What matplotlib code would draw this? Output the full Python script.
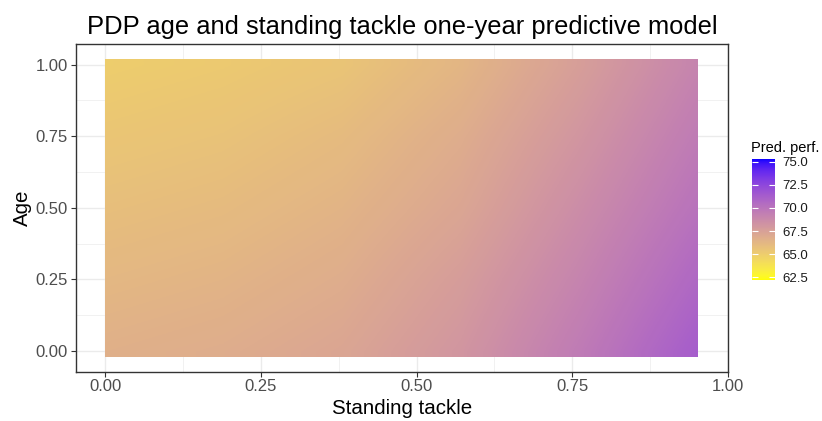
import numpy as np
import matplotlib
matplotlib.use("Agg")
import matplotlib.pyplot as plt
from matplotlib.colors import ListedColormap
from matplotlib.patches import Rectangle

# partial dependence grid: rows = age, columns = standing tackle
tackle = [0.0, 0.19, 0.38, 0.57, 0.76, 0.952]
age = [0.0, 0.25, 0.5, 0.75, 1.0]
pred = [
    [66.6, 66.8, 67.2, 68.1, 69.6, 71.3],
    [66.2, 66.4, 66.8, 67.7, 69.1, 70.7],
    [65.8, 66.0, 66.4, 67.2, 68.6, 70.1],
    [65.4, 65.6, 66.0, 66.8, 68.1, 69.6],
    [65.0, 65.2, 65.5, 66.3, 67.6, 69.1],
]
fill_limits = (62.2, 75.3)
legend_ticks = [62.5, 65.0, 67.5, 70.0, 72.5, 75.0]


def srgb_to_lab(rgb):
    rgb = np.asarray(rgb, float)
    lin = np.where(rgb <= 0.04045, rgb / 12.92, ((rgb + 0.055) / 1.055) ** 2.4)
    m = np.array([[0.4124, 0.3576, 0.1805],
                  [0.2126, 0.7152, 0.0722],
                  [0.0193, 0.1192, 0.9505]])
    xyz = m @ lin / np.array([0.95047, 1.0, 1.08883])
    f = np.where(xyz > 0.008856, np.cbrt(xyz), 7.787 * xyz + 16 / 116)
    return np.array([116 * f[1] - 16, 500 * (f[0] - f[1]), 200 * (f[1] - f[2])])


def lab_to_srgb(lab):
    L, a, b = lab
    fy = (L + 16) / 116
    fx = fy + a / 500
    fz = fy - b / 200
    f = np.array([fx, fy, fz])
    xyz = np.where(f ** 3 > 0.008856, f ** 3, (f - 16 / 116) / 7.787)
    xyz = xyz * np.array([0.95047, 1.0, 1.08883])
    m = np.array([[3.2406, -1.5372, -0.4986],
                  [-0.9689, 1.8758, 0.0415],
                  [0.0557, -0.2040, 1.0570]])
    lin = np.clip(m @ xyz, 0, 1)
    rgb = np.where(lin <= 0.0031308, 12.92 * lin, 1.055 * lin ** (1 / 2.4) - 0.055)
    return np.clip(rgb, 0, 1)


# yellow -> blue gradient in Lab space
lab_lo = srgb_to_lab([1, 1, 0])
lab_hi = srgb_to_lab([0, 0, 1])
cmap = ListedColormap([lab_to_srgb(lab_lo + t * (lab_hi - lab_lo))
                       for t in np.linspace(0, 1, 256)])

plt.rcParams['font.family'] = ['Liberation Sans', 'DejaVu Sans']

fig = plt.figure(figsize=(8.22, 4.21), dpi=100)
ax = fig.add_axes([0.0921, 0.1171, 0.7935, 0.7784])

dx = (tackle[-1] - tackle[0]) / (len(tackle) - 1)
dy = (age[-1] - age[0]) / (len(age) - 1)
img = ax.imshow(np.array(pred), origin='lower', cmap=cmap,
                vmin=fill_limits[0], vmax=fill_limits[1],
                extent=[tackle[0] - dx / 2, tackle[-1] + dx / 2,
                        age[0] - dy / 2, age[-1] + dy / 2],
                interpolation='bilinear', interpolation_stage='data',
                aspect='auto', zorder=2)
clip = Rectangle((tackle[0], -0.02), tackle[-1] - tackle[0], 1.04,
                 transform=ax.transData)
img.set_clip_path(clip)

ax.set_xlim(-0.0476, 1.0)
ax.set_ylim(-0.072, 1.072)

ticks = [0.0, 0.25, 0.5, 0.75, 1.0]
ax.set_xticks(ticks)
ax.set_yticks(ticks)
ax.set_xticklabels(['%.2f' % t for t in ticks])
ax.set_yticklabels(['%.2f' % t for t in ticks])
ax.set_xticks([0.125, 0.375, 0.625, 0.875], minor=True)
ax.set_yticks([0.125, 0.375, 0.625, 0.875], minor=True)
ax.grid(True, which='major', color='#EBEBEB', lw=1.0, zorder=0)
ax.grid(True, which='minor', color='#EBEBEB', lw=0.5, zorder=0)
ax.set_axisbelow(True)
ax.tick_params(which='major', length=3.5, width=0.8, color='#333333',
               labelsize=12, labelcolor='#4D4D4D', pad=2)
ax.tick_params(which='minor', length=0)
for s in ax.spines.values():
    s.set_color('#333333')
    s.set_linewidth(1.0)

ax.set_xlabel('Standing tackle', fontsize=14.8, labelpad=3)
ax.set_ylabel('Age', fontsize=14.8, labelpad=3)
ax.set_title('PDP age and standing tackle one-year predictive model',
             fontsize=18.4, pad=7)

cax = fig.add_axes([0.9148, 0.3349, 0.028, 0.2874])
cb = fig.colorbar(img, cax=cax, ticks=legend_ticks)
cb.outline.set_visible(False)
cb.ax.set_yticklabels(['%.1f' % t for t in legend_ticks])
cb.ax.tick_params(direction='in', length=4.5, width=0.8, color='white',
                  left=True, right=True, labelsize=9.5, labelcolor='#1A1A1A',
                  pad=5)
cb.ax.set_title('Pred. perf.', fontsize=10.5, loc='left', pad=5, x=-0.05)

fig.savefig('out.png', dpi=100)
